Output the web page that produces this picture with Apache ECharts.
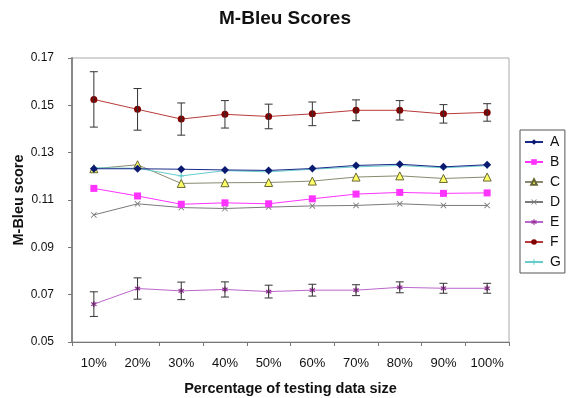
<!DOCTYPE html>
<html><head><meta charset="utf-8">
<script src="https://cdn.jsdelivr.net/npm/echarts@6/dist/echarts.min.js"></script>
<style>html,body{margin:0;padding:0;background:#fff}#c{width:570px;height:398px}</style>
</head><body><div id="c"></div>
<script>
const categories = ['10%','20%','30%','40%','50%','60%','70%','80%','90%','100%'];
const yTicks = [0.05, 0.07, 0.09, 0.11, 0.13, 0.15, 0.17];
const seriesA = [0.1232, 0.1232, 0.1230, 0.1227, 0.1225, 0.1233, 0.1246, 0.1251, 0.1240, 0.1249];
const seriesB = [0.1149, 0.1117, 0.1082, 0.1088, 0.1084, 0.1105, 0.1125, 0.1132, 0.1128, 0.1130];
const seriesC = [0.1232, 0.1249, 0.1170, 0.1173, 0.1174, 0.1180, 0.1197, 0.1202, 0.1191, 0.1197];
const seriesD = [0.1037, 0.1084, 0.1068, 0.1064, 0.1070, 0.1075, 0.1077, 0.1084, 0.1077, 0.1077];
const seriesE = [0.0660, 0.0726, 0.0716, 0.0722, 0.0713, 0.0719, 0.0719, 0.0731, 0.0727, 0.0727];
const seriesF = [0.1525, 0.1483, 0.1442, 0.1462, 0.1453, 0.1464, 0.1479, 0.1479, 0.1464, 0.1470];
const seriesG = [0.1236, 0.1234, 0.1202, 0.1224, 0.1219, 0.1230, 0.1240, 0.1246, 0.1236, 0.1245];
const errE = [0.0052, 0.0045, 0.0037, 0.0032, 0.0027, 0.0025, 0.0023, 0.0023, 0.0021, 0.0021];
const errF = [0.0117, 0.0088, 0.0068, 0.0058, 0.0052, 0.0050, 0.0044, 0.0041, 0.0039, 0.0037];

const FONT = 'Liberation Sans, Arial, sans-serif';
const xPath = 'path://M0,1 L1,0 L5,4 L9,0 L10,1 L6,5 L10,9 L9,10 L5,6 L1,10 L0,9 L4,5 Z';
const plusPath = 'path://M4,0 H6 V4 H10 V6 H6 V10 H4 V6 H0 V4 H4 Z';
const starPath = 'path://M4,0 H6 V3 L8.5,1.5 L9.5,3 L7,5 L9.5,7 L8.5,8.5 L6,7 V10 H4 V7 L1.5,8.5 L0.5,7 L3,5 L0.5,3 L1.5,1.5 L4,3 Z';

function lineSeries(name, data, color, symbol, size, fill, border) {
  return {
    name, type: 'line', data, symbol, symbolSize: size,
    lineStyle: { color, width: 1 },
    itemStyle: { color: fill || color, borderColor: border || (fill || color), borderWidth: border ? 1 : 0 },
    emphasis: { disabled: true }, animation: false
  };
}
function errSeries(vals, errs) {
  return {
    type: 'custom', animation: false, silent: true, z: 5,
    data: vals.map((v, i) => [i, v - errs[i], v + errs[i]]),
    renderItem: function (params, api) {
      const i = api.value(0);
      const lo = api.coord([i, api.value(1)]);
      const hi = api.coord([i, api.value(2)]);
      const w = 4, st = { stroke: '#333', lineWidth: 1 };
      return { type: 'group', children: [
        { type: 'line', shape: { x1: lo[0], y1: lo[1], x2: hi[0], y2: hi[1] }, style: st },
        { type: 'line', shape: { x1: lo[0] - w, y1: lo[1], x2: lo[0] + w, y2: lo[1] }, style: st },
        { type: 'line', shape: { x1: hi[0] - w, y1: hi[1], x2: hi[0] + w, y2: hi[1] }, style: st }
      ]};
    }
  };
}

const chart = echarts.init(document.getElementById('c'), null, { renderer: 'canvas' });
chart.setOption({
  backgroundColor: '#fff',
  title: { text: 'M-Bleu Scores', left: 214, top: 4,
    textStyle: { fontFamily: FONT, fontSize: 19, fontWeight: 'bold', color: '#111' } },
  grid: { left: 72, top: 58, right: 61, bottom: 56, show: true, borderColor: '#aaa', borderWidth: 1,
    containLabel: false, outerBoundsMode: 'none' },
  legend: {
    orient: 'vertical', left: 520, top: 130, padding: [5, 4, 4, 4],
    borderColor: '#555', borderWidth: 1, itemGap: 6, itemWidth: 18, itemHeight: 7,
    data: ['A','B','C','D','E','F','G'],
    textStyle: { fontFamily: FONT, fontSize: 14, color: '#111', lineHeight: 14, padding: [0,0,0,2] }
  },
  xAxis: {
    type: 'category', data: categories, boundaryGap: true,
    name: 'Percentage of testing data size', nameLocation: 'middle', nameGap: 39,
    nameMoveOverlap: false,
    nameTextStyle: { fontFamily: FONT, fontSize: 14.5, fontWeight: 'bold', color: '#111' },
    axisLine: { lineStyle: { color: '#777' } },
    axisTick: { show: true, length: 4, lineStyle: { color: '#777' } },
    axisLabel: { fontFamily: FONT, fontSize: 13, color: '#111', margin: 15 },
    splitLine: { show: false }
  },
  yAxis: {
    type: 'value', min: yTicks[0], max: yTicks[yTicks.length - 1], interval: 0.02,
    name: 'M-Bleu score', nameLocation: 'middle', nameGap: 46, nameMoveOverlap: false,
    nameTextStyle: { fontFamily: FONT, fontSize: 14.5, fontWeight: 'bold', color: '#111' },
    axisLine: { show: true, lineStyle: { color: '#888', width: 2 } },
    axisTick: { show: true, length: 4, lineStyle: { color: '#777' } },
    axisLabel: { fontFamily: FONT, fontSize: 12, color: '#111', margin: 18,
      formatter: v => v.toFixed(2) },
    splitLine: { show: false }
  },
  series: [
    lineSeries('D', seriesD, '#7a7a7a', xPath, 6),
    lineSeries('B', seriesB, '#ff33ff', 'rect', 7),
    lineSeries('C', seriesC, '#8a8a70', 'triangle', 8, '#ffff66', '#666633'),
    lineSeries('G', seriesG, '#66cccc', plusPath, 6),
    lineSeries('A', seriesA, '#1a2a8a', 'diamond', 8, '#0a1a70'),
    lineSeries('E', seriesE, '#bb66cc', starPath, 6, '#993399'),
    lineSeries('F', seriesF, '#b83a3a', 'circle', 7, '#800000'),
    errSeries(seriesF, errF),
    errSeries(seriesE, errE)
  ]
});
</script></body></html>
